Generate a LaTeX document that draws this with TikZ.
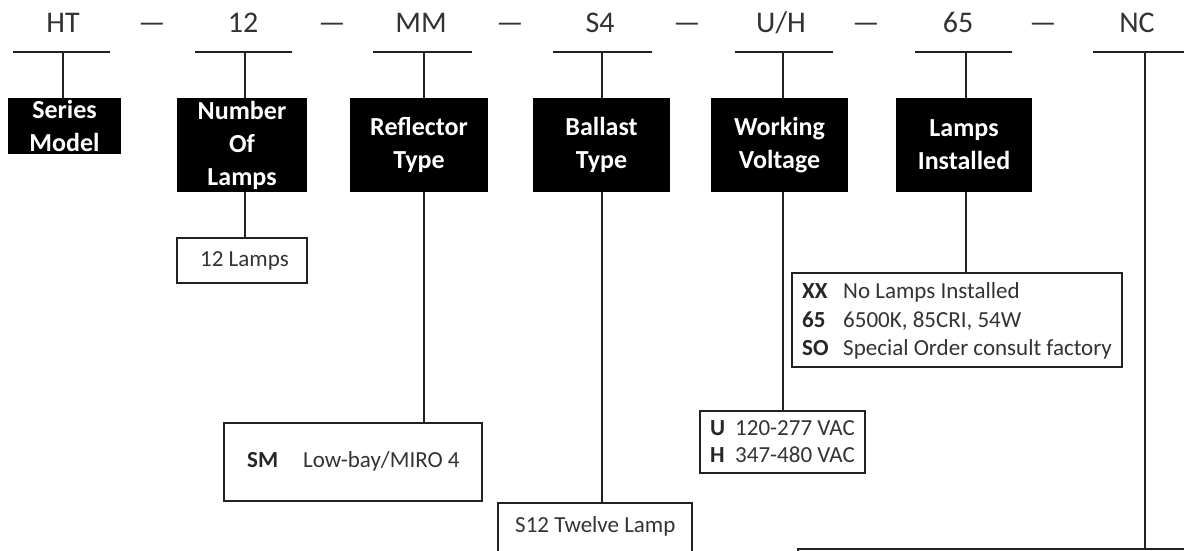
\documentclass[tikz,border=0pt]{standalone}
\usepackage{fontspec}
\setmainfont{Carlito}
\definecolor{ink}{HTML}{333333}
\definecolor{linec}{HTML}{222222}
\begin{document}
\begin{tikzpicture}[x=1pt,y=-1pt,
  code/.style={font=\fontsize{30}{36}\selectfont, text=ink, anchor=base, inner sep=0pt},
  uline/.style={draw=linec, line width=1.6pt},
  conn/.style={draw=linec, line width=1.6pt},
  bbox/.style={fill=black, text=white, font=\fontsize{26}{33}\selectfont\bfseries, align=center, inner sep=0pt},
  optbox/.style={draw=linec, line width=1.6pt, fill=white, inner sep=0pt},
  small/.style={font=\fontsize{23}{27}\selectfont, text=ink, anchor=base west, inner sep=0pt},
  smallb/.style={font=\fontsize{23}{27}\selectfont\bfseries, text=black!85, anchor=base west, inner sep=0pt}]
\useasboundingbox (0,0) rectangle (1184,550);
\clip (0,0) rectangle (1184,550);
\fill[white] (0,0) rectangle (1184,550);

% code row
\node[code] (cHT) at (63,32) {HT};
\node[code] (d1) at (152,32) {—};
\node[code] (c12) at (243,32) {12};
\node[code] (d2) at (332,32) {—};
\node[code] (cMM) at (421,32) {MM};
\node[code] (d3) at (510,32) {—};
\node[code] (cS4) at (600,32) {S4};
\node[code] (d4) at (687,32) {—};
\node[code] (cUH) at (781,32) {U/H};
\node[code] (d5) at (866,32) {—};
\node[code] (c65) at (958,32) {65};
\node[code] (d6) at (1043,32) {—};
\node[code] (cNC) at (1137,32) {NC};

% underline taps
\coordinate (t1) at (63,52);
\coordinate (t2) at (245,52);
\coordinate (t3) at (424,52);
\coordinate (t4) at (602,52);
\coordinate (t5) at (783,52);
\coordinate (t6) at (966,52);
\coordinate (t7) at (1145,52);
\draw[uline] (13,52) -- (110,52);
\draw[uline] (195,52) -- (292,52);
\draw[uline] (373,52) -- (472,52);
\draw[uline] (553,52) -- (652,52);
\draw[uline] (735,52) -- (833,52);
\draw[uline] (915,52) -- (1012,52);
\draw[uline] (1093,52) -- (1190,52);

% black category boxes
\node[bbox, minimum width=113pt, minimum height=56pt] (b1) at (64.5,126) {Series\\Model};
\node[bbox, minimum width=130pt, minimum height=94pt] (b2) at (242,145) {Number\\Of\\Lamps};
\node[bbox, minimum width=138pt, minimum height=94pt] (b3) at (419,145) {Reflector\\Type};
\node[bbox, minimum width=137pt, minimum height=94pt] (b4) at (601.5,145) {Ballast\\Type};
\node[bbox, minimum width=137pt, minimum height=94pt] (b5) at (779.5,145) {Working\\Voltage};
\node[bbox, minimum width=136pt, minimum height=94pt] (b6) at (964,145) {Lamps\\Installed};

% option boxes
\node[optbox, minimum width=130pt, minimum height=45pt] (o2) at (242,260.5) {};
\node[optbox, minimum width=258pt, minimum height=78pt] (o3) at (353,462) {};
\node[optbox, minimum width=194pt, minimum height=97pt] (o4) at (595,551.5) {};
\node[optbox, minimum width=165pt, minimum height=62pt] (o5) at (782.5,442) {};
\node[optbox, minimum width=330pt, minimum height=94pt] (o6) at (957,320) {};
\node[optbox, minimum width=452pt, minimum height=101pt] (o7) at (1024,599.5) {};

% connectors
\draw[conn] (t1) -- (t1 |- b1.north);
\draw[conn] (t2) -- (t2 |- b2.north);
\draw[conn] (t3) -- (t3 |- b3.north);
\draw[conn] (t4) -- (t4 |- b4.north);
\draw[conn] (t5) -- (t5 |- b5.north);
\draw[conn] (t6) -- (t6 |- b6.north);
\draw[conn] (t2 |- b2.south) -- (t2 |- o2.north);
\draw[conn] (t3 |- b3.south) -- (t3 |- o3.north);
\draw[conn] (t4 |- b4.south) -- (t4 |- o4.north);
\draw[conn] (t5 |- b5.south) -- (t5 |- o5.north);
\draw[conn] (t6 |- b6.south) -- (t6 |- o6.north);
\draw[conn] (t7) -- (t7 |- o7.north);

% option texts
\node[small] (x12) at (200,266) {12 Lamps};
\node[smallb] (xSM) at (247,467) {SM};
\node[small] (xSMt) at (303,467) {Low-bay/MIRO 4};
\node[small] (xS12) at (515,532) {S12 Twelve Lamp};
\node[smallb] (xU) at (710,435) {U};
\node[small] (xUt) at (735,435) {120-277 VAC};
\node[smallb] (xH) at (710,462) {H};
\node[small] (xHt) at (735,462) {347-480 VAC};
\node[smallb] (xXX) at (802,298) {XX};
\node[small] (xXXt) at (843,298) {No Lamps Installed};
\node[smallb] (x65) at (802,327) {65};
\node[small] (x65t) at (843,327) {6500K, 85CRI, 54W};
\node[smallb] (xSO) at (802,355) {SO};
\node[small] (xSOt) at (843,355) {Special Order consult factory};
\end{tikzpicture}
\end{document}
